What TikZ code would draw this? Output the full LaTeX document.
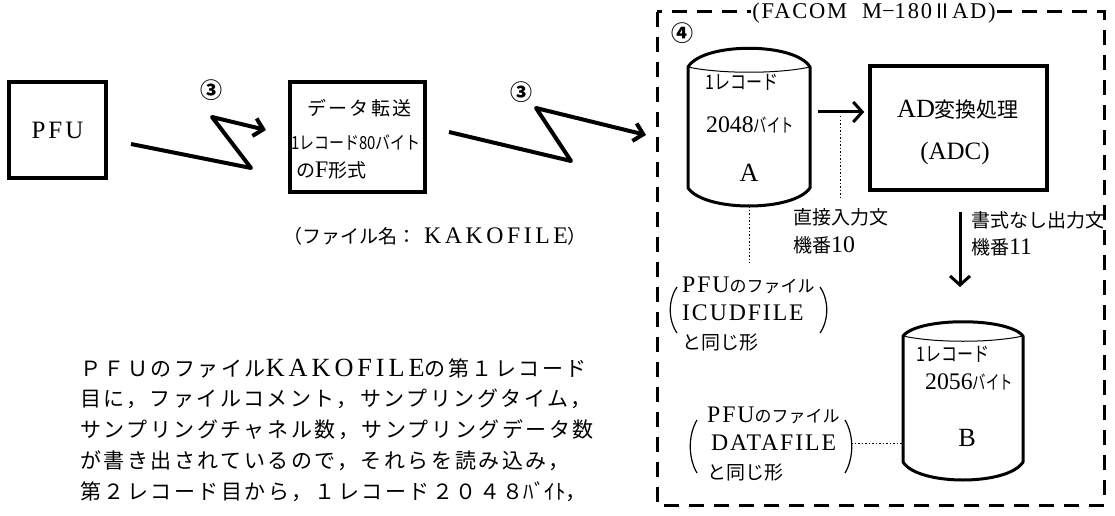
\documentclass[tikz,border=0pt]{standalone}
\usepackage{fontspec}
\usepackage{graphicx}
\setmainfont{Liberation Serif}[Scale=1.25]
\newfontfamily\jp{Noto Sans CJK JP}
\newfontfamily\jpw[LetterSpace=12]{Noto Sans CJK JP}
\newfontfamily\rmw[LetterSpace=8,Scale=1.25]{Liberation Serif}
\newfontfamily\rmww[LetterSpace=15,Scale=1.25]{Liberation Serif}
\usetikzlibrary{arrows.meta}
\tikzset{
  fs/.style={font=\fontsize{#1pt}{#1pt}\selectfont},
  boxnode/.style={draw, line width=3.5pt, inner sep=0pt},
  lbl/.style={inner sep=0pt, anchor=west},
  zig/.style={line width=4pt, line join=round, -{Straight Barb[length=9pt,width=18pt]}},
  arr/.style={line width=3pt, -{Straight Barb[length=9pt,width=20pt]}},
  cyl/.style={line width=3pt, line join=round},
  thinarc/.style={line width=1pt},
  dots/.style={line width=1pt, dash pattern=on 1.5pt off 2pt},
  frame/.style={line width=3pt, dash pattern=on 15pt off 10pt},
  paren/.style={line width=1.2pt}
}
\begin{document}
\begin{tikzpicture}[x=1pt,y=-1pt]
\path[use as bounding box] (0,0) rectangle (1115,516);

% dashed frame
\draw[frame] (657,12) rectangle (1104,505);
\node[fill=white, inner sep=1pt, fs=18] (title) at (874,13)
  {{\rmw (FACOM\ \ M}{−}{\rmw 180}{\jp\fontsize{20pt}{20pt}\selectfont Ⅱ}{\rmw AD)}};
\node[fs=22] (c4) at (682,33) {\jp\bfseries ④};

% PFU box
\node[boxnode, minimum width=97pt, minimum height=96pt, fs=20] (pfu) at (57.5,130)
  {P\hspace{3pt}F\hspace{3pt}U};

% data transfer box
\node[boxnode, minimum width=135pt, minimum height=110pt] (xfer) at (357.5,137) {};
\node[lbl, fs=19] (xfer1) at (307,108) {\jpw データ転送};
\node[lbl, fs=18] (xfer2) at (291,143) {\scalebox{0.83}[1]{\jp 1レコード80バイト}};
\node[lbl, fs=19] (xfer3) at (296,170) {\jp の{\rmfamily F}形式};
\node[lbl, fs=19] (fname) at (283,236) {\jp （ファイル名：\hspace{8pt}{\rmww KAKOFILE}）};

% circled 3 and zigzags
\node[fs=22] (c3a) at (211,90) {\jp\bfseries ③};
\node[fs=22] (c3b) at (521,92) {\jp\bfseries ③};
\coordinate (z1a) at (131,144);
\coordinate (z1b) at (251,168);
\coordinate (z1c) at (212,117);
\coordinate (z1d) at (266,130);
\draw[zig] (z1a) -- (z1b) -- (z1c) -- (z1d);
\coordinate (z2a) at (449,132);
\coordinate (z2b) at (571,161);
\coordinate (z2c) at (536,108);
\coordinate (z2d) at (646,135);
\draw[zig] (z2a) -- (z2b) -- (z2c) -- (z2d);

% cylinder A
\draw[cyl] (688,67) -- (688,188) .. controls (705,212) and (793,212) .. (810,188)
  -- (810,67) .. controls (795,42) and (703,42) .. (688,67) -- cycle;
\draw[thinarc] (688,67) .. controls (720,74) and (778,74) .. (810,67);
\coordinate (Abot) at (749,206);
\coordinate (Aend) at (749,263);
\node[lbl, fs=20] (a1) at (705,82) {\scalebox{0.8}[1]{\jp 1レコード}};
\node[lbl, fs=19] (a2) at (706,125) {2048{\jp\scalebox{0.7}[1]{バイト}}};
\node[fs=21] (aA) at (749,173) {A};

% ADC box
\node[boxnode, minimum width=177pt, minimum height=124pt] (adc) at (958.5,128) {};
\node[fs=21] (adc1) at (958,110) {AD{\jp 変換処理}};
\node[fs=20] (adc2) at (955,153) {(ADC)};

% arrow A -> ADC
\coordinate (a2adc) at (818,112);
\draw[arr, shorten >=4pt] (a2adc) -- (a2adc -| adc.west);
\coordinate (dv1) at (840,116);
\coordinate (dv2) at (840,197);
\draw[dots] (dv1) -- (dv2);

% down arrow ADC -> B
\coordinate (dnA) at (960,212);
\coordinate (dnB) at (960,287);
\draw[arr] (dnA) -- (dnB);

% labels
\node[lbl, fs=19] (l1) at (793,217) {\jp 直接入力文};
\node[lbl, fs=19] (l2) at (793,245) {\jp 機番{\rmfamily 10}};
\node[lbl, fs=19] (l3) at (971,220) {\jp 書式なし出力文};
\node[lbl, fs=19] (l4) at (971,247) {\jp 機番{\rmfamily 11}};

% dotted from A
\draw[dots] (Abot) -- (Aend);

% ICUDFILE note
\node[lbl, fs=19] (i1) at (682,285) {{\rmw PFU}{\jp\fontsize{17pt}{17pt}\selectfont のファイル}};
\node[lbl, fs=19] (i2) at (682,313) {\rmw ICUDFILE};
\node[lbl, fs=19] (i3) at (682,342) {\jp と同じ形};
\draw[paren] (677,287) .. controls (668,300) and (668,320) .. (677,333);
\draw[paren] (820,287) .. controls (829,300) and (829,320) .. (820,333);

% cylinder B
\draw[cyl] (903,336) -- (903,462) .. controls (918,486) and (1008,486) .. (1023,462)
  -- (1023,336) .. controls (1008,317) and (918,317) .. (903,336) -- cycle;
\draw[thinarc] (903,336) .. controls (935,343) and (991,343) .. (1023,336);
\coordinate (Bleft) at (903,443);
\node[lbl, fs=20] (b1) at (916,354) {\scalebox{0.8}[1]{\jp 1レコード}};
\node[lbl, fs=19] (b2) at (925,382) {2056{\jp\scalebox{0.7}[1]{バイト}}};
\node[fs=21] (bB) at (967,438) {B};

% DATAFILE note
\node[lbl, fs=19] (d1) at (707,415) {{\rmw PFU}{\jp\fontsize{17pt}{17pt}\selectfont のファイル}};
\node[lbl, fs=19] (d2) at (711,443) {\rmw DATAFILE};
\node[lbl, fs=19] (d3) at (707,472) {\jp と同じ形};
\draw[paren] (697,420) .. controls (688,435) and (688,458) .. (697,473);
\draw[paren] (845,420) .. controls (854,435) and (854,458) .. (845,473);
\coordinate (dp) at (851,443);
\draw[dots] (dp) -- (Bleft);

% paragraph
\node[lbl, fs=21] (p1) at (80,368) {{\jpw ＰＦＵのファイル}{\rmww KAKOFILE}{\jpw の第１レコード}};
\node[lbl, fs=21] (p2) at (80,399) {\jpw 目に，ファイルコメント，サンプリングタイム，};
\node[lbl, fs=21] (p3) at (80,430) {\jpw サンプリングチャネル数，サンプリングデータ数};
\node[lbl, fs=21] (p4) at (80,461) {\jpw が書き出されているので，それらを読み込み，};
\node[lbl, fs=21] (p5) at (80,492) {{\jpw 第２レコード目から，１レコード２０４８}{\jp ﾊﾞｲﾄ}{\jpw ，}};
\end{tikzpicture}
\end{document}
